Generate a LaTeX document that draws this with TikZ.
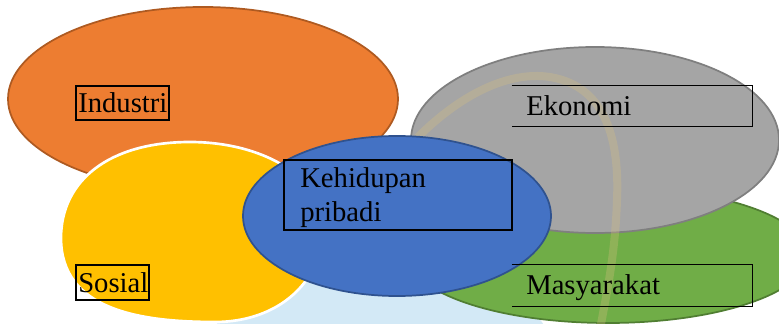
\documentclass[tikz,border=0pt]{standalone}
\usepackage{fontspec}
\setmainfont{Liberation Serif}
\begin{document}
\begin{tikzpicture}[x=0.75pt,y=-0.75pt,
  blob/.style={line width=1.3pt},
  labelbox/.style={draw=black,line width=1.1pt,rectangle,inner sep=0pt},
  openbox/.style={rectangle,inner sep=0pt},
  lbl/.style={anchor=base west,inner sep=0pt,font=\fontsize{21.5}{25.5}\selectfont},
  haze/.style={draw=tanW,line width=6pt,opacity=0.3,line cap=round}
]
\definecolor{orangeF}{HTML}{ED7D31}\definecolor{orangeD}{HTML}{AE5A21}
\definecolor{yellowF}{HTML}{FFC000}
\definecolor{grayF}{HTML}{A5A5A5}\definecolor{grayD}{HTML}{7F7F7F}
\definecolor{greenF}{HTML}{70AD47}\definecolor{greenD}{HTML}{507E32}
\definecolor{blueF}{HTML}{4472C4}\definecolor{blueD}{HTML}{2F528F}
\definecolor{paleblue}{HTML}{D3E9F6}
\definecolor{tanW}{HTML}{D9C080}
\useasboundingbox (0,0) rectangle (779,324);
\begin{scope}
\clip (0,0) rectangle (779,324);
% soft pale backdrop at the bottom
\fill[paleblue] (380,345) ellipse [x radius=170, y radius=75];
% the five spheres of life
\draw[blob,fill=orangeF,draw=orangeD] (203,99) ellipse [x radius=195, y radius=92];
\draw[line width=2pt,fill=yellowF,draw=white]
  (190,142) .. controls (110,142) and (61,180) .. (61,238)
  .. controls (61,310) and (140,322) .. (215,322)
  .. controls (280,322) and (323,280) .. (323,228)
  .. controls (323,175) and (260,142) .. (190,142) -- cycle;
\draw[blob,fill=greenF,draw=greenD] (608,255) ellipse [x radius=200, y radius=68];
\draw[blob,fill=grayF,draw=grayD] (595,140) ellipse [x radius=184, y radius=93];
\draw[haze] (417,138) .. controls (470,85) and (520,70) .. (555,78)
  .. controls (600,88) and (620,130) .. (617,200) .. controls (615,260) and (605,300) .. (600,330);
\draw[blob,fill=blueF,draw=blueD] (397,216) ellipse [x radius=154, y radius=80];
\end{scope}
% labels
\node[labelbox,minimum width=93*0.75pt,minimum height=34*0.75pt] (ind) at (122.5,103) {};
\node[lbl] (indT) at (78,113) {Industri};
\node[labelbox,minimum width=73*0.75pt,minimum height=35*0.75pt] (sos) at (112.5,282.5) {};
\node[lbl] (sosT) at (78,292) {Sosial};
\node[labelbox,minimum width=228*0.75pt,minimum height=70*0.75pt] (keh) at (398,195) {};
\node[lbl] (kehT) at (300,188) {Kehidupan};
\node[lbl] (priT) at (300,222) {pribadi};
\node[openbox,minimum width=240*0.75pt,minimum height=40*0.75pt] (eko) at (632,106) {};
\draw[line width=1.1pt] (eko.north west) -- (eko.north east) -- (eko.south east) -- (eko.south west);
\node[lbl] (ekoT) at (526,116) {Ekonomi};
\node[openbox,minimum width=240*0.75pt,minimum height=41*0.75pt] (mas) at (632,285.5) {};
\draw[line width=1.1pt] (mas.north west) -- (mas.north east) -- (mas.south east) -- (mas.south west);
\node[lbl] (masT) at (526,295) {Masyarakat};
\end{tikzpicture}
\end{document}
